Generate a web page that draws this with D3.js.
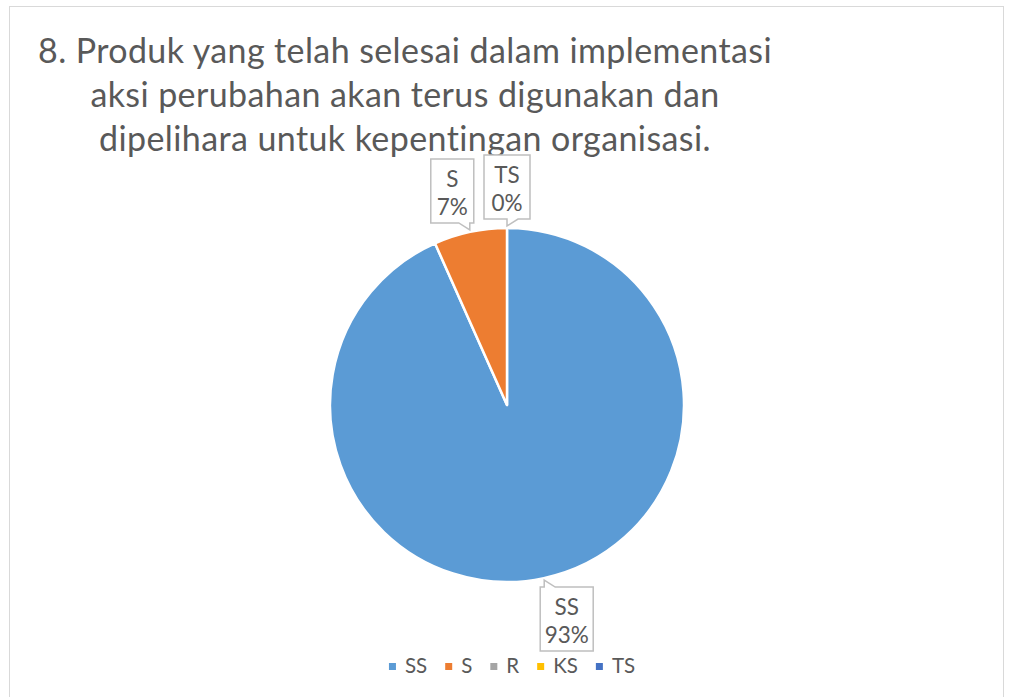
<!DOCTYPE html>
<html lang="id">
<head>
<meta charset="UTF-8">
<title>Produk</title>
<script src="https://d3js.org/d3.v7.min.js"></script>
<style>
  body { margin: 0; background: #fff; }
  text { font-family: Lato, "Open Sans", sans-serif; fill: #595959; }
</style>
</head>
<body>
<svg id="chart" width="1010" height="697"></svg>
<script>
  const categories = ['SS', 'S', 'R', 'KS', 'TS'];
  const counts = [14, 1, 0, 0, 0];
  const colors = ['#5B9BD5', '#ED7D31', '#A5A5A5', '#FFC000', '#4472C4'];
  const labelled = ['SS', 'S', 'TS']; // excel only shows these callouts
  const titleLines = [
    '8. Produk yang telah selesai dalam implementasi',
    'aksi perubahan akan terus digunakan dan',
    'dipelihara untuk kepentingan organisasi.'
  ];

  const svg = d3.select('#chart');
  const cx = 507, cy = 405, radius = 177;

  // chart frame
  svg.append('rect')
    .attr('x', 9.5).attr('y', 6.5)
    .attr('width', 994).attr('height', 700)
    .attr('fill', 'none')
    .attr('stroke', '#d9d9d9');

  // title
  svg.append('g').selectAll('text')
    .data(titleLines)
    .join('text')
    .attr('x', 405)
    .attr('y', (d, i) => 63 + i * 44)
    .attr('text-anchor', 'middle')
    .attr('font-size', 34)
    .attr('letter-spacing', 0.4)
    .text(d => d);

  const data = categories.map((c, i) => ({ name: c, value: counts[i], color: colors[i] }));
  const total = d3.sum(counts);

  const pie = d3.pie().sort(null).value(d => d.value);
  const arcs = pie(data);
  const arc = d3.arc().innerRadius(0).outerRadius(radius);

  const g = svg.append('g').attr('transform', `translate(${cx},${cy})`);
  g.selectAll('path')
    .data(arcs.filter(d => d.value > 0))
    .join('path')
    .attr('d', arc)
    .attr('fill', d => d.data.color)
    .attr('stroke', '#fff')
    .attr('stroke-width', 2.5)
    .attr('stroke-linejoin', 'round');

  // data label callouts
  const boxW = { SS: 53, S: 43, TS: 46 };
  const boxH = 64;
  const labels = arcs.filter(d => labelled.includes(d.data.name)).map(d => {
    const a = (d.startAngle + d.endAngle) / 2;
    const w = boxW[d.data.name];
    const tx = Math.sin(a) * (radius + 2), ty = -Math.cos(a) * (radius + 2);
    const side = Math.abs(tx) < 1 ? 0 : Math.sign(tx);
    return {
      d: d,
      w: w,
      x: tx + side * (w / 2 - 4),
      y: ty + Math.sign(ty) * (7 + boxH / 2),
      tx: tx,
      ty: ty
    };
  });
  // push apart the labels sitting at the top
  const topLabels = labels.filter(l => l.y < 0).sort((a, b) => a.x - b.x);
  for (let i = topLabels.length - 2; i >= 0; i--) {
    const gap = (topLabels[i + 1].x - topLabels[i + 1].w / 2) - (topLabels[i].x + topLabels[i].w / 2);
    if (gap < 9) topLabels[i].x -= 9 - gap;
  }

  labels.forEach(l => {
    const left = l.x - l.w / 2, right = l.x + l.w / 2;
    const t = l.y - boxH / 2, b = l.y + boxH / 2;
    const bx = Math.max(left + 3, Math.min(right - 3, l.tx));
    const toward = bx > l.x ? -11 : 11;
    const b1 = Math.min(bx, bx + toward), b2 = Math.max(bx, bx + toward);
    let p;
    if (l.ty > b) {
      p = `M${left},${t}H${right}V${b}H${b2}L${l.tx},${l.ty}L${b1},${b}H${left}Z`;
    } else {
      p = `M${left},${t}H${b1}L${l.tx},${l.ty}L${b2},${t}H${right}V${b}H${left}Z`;
    }
    g.append('path')
      .attr('d', p)
      .attr('fill', '#fff')
      .attr('stroke', '#bfbfbf')
      .attr('stroke-width', 1.5);
    const pct = Math.round(l.d.value / total * 100) + '%';
    g.append('text')
      .attr('x', l.x).attr('y', t + 28)
      .attr('text-anchor', 'middle')
      .attr('font-size', 22.5)
      .text(l.d.data.name);
    g.append('text')
      .attr('x', l.x).attr('y', t + 56)
      .attr('text-anchor', 'middle')
      .attr('font-size', 22.5)
      .text(pct);
  });

  // legend
  const legend = svg.append('g');
  const gapItem = 18;
  let lx = 0;
  const items = legend.selectAll('g')
    .data(data)
    .join('g');
  items.append('rect')
    .attr('y', -10).attr('width', 7).attr('height', 7)
    .attr('fill', d => d.color);
  items.append('text')
    .attr('x', 16)
    .attr('font-size', 20.5)
    .text(d => d.name);
  items.each(function () {
    d3.select(this).attr('transform', `translate(${lx},0)`);
    lx += 16 + d3.select(this).select('text').node().getComputedTextLength() + gapItem;
  });
  const legendW = lx - gapItem;
  legend.attr('transform', `translate(${512 - legendW / 2},673)`);
</script>
</body>
</html>
